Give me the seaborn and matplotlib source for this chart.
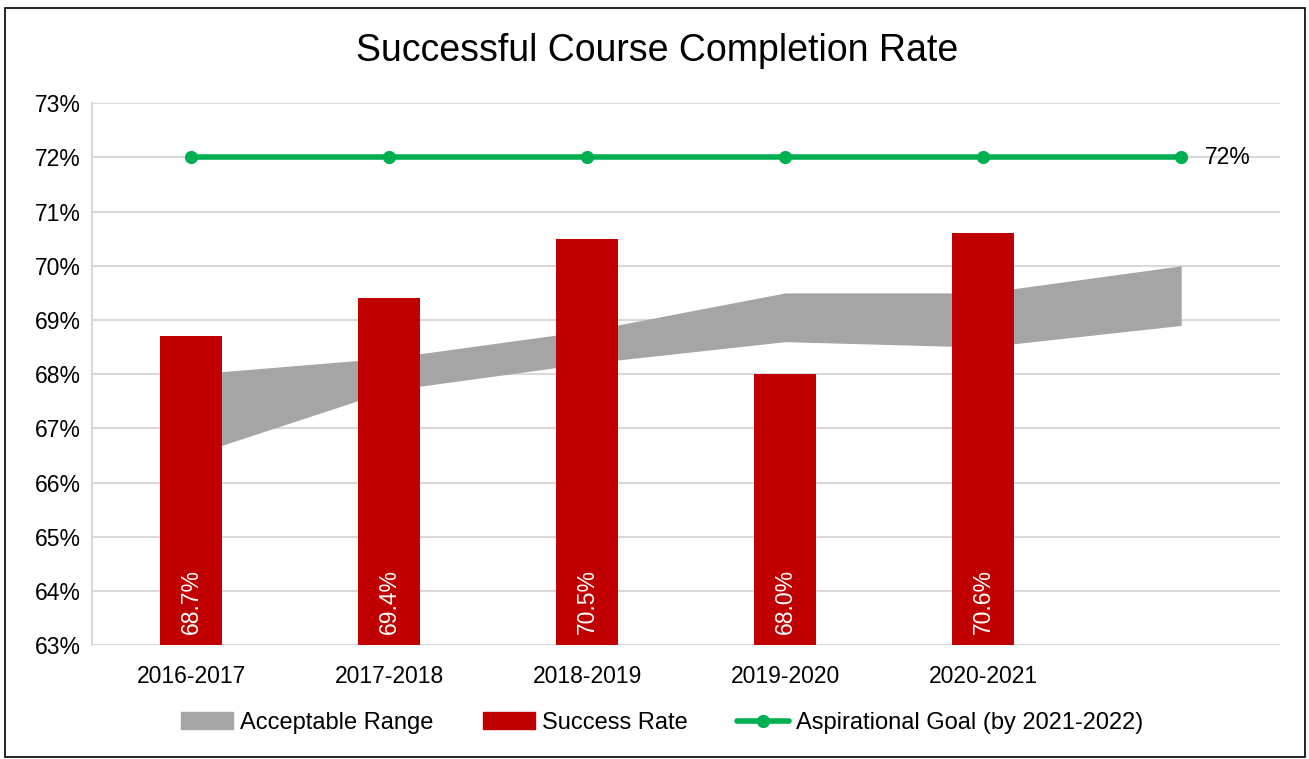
import matplotlib.pyplot as plt
import numpy as np
import pandas as pd
import seaborn as sns
from matplotlib.lines import Line2D
from matplotlib.patches import Patch, Rectangle

years = ["2016-2017", "2017-2018", "2018-2019", "2019-2020", "2020-2021", ""]
success_rate = [68.7, 69.4, 70.5, 68.0, 70.6]
range_low = [66.5, 67.7, 68.2, 68.6, 68.5, 68.9]
range_high = [68.0, 68.3, 68.8, 69.5, 69.5, 70.0]
goal = [72, 72, 72, 72, 72, 72]

RED = "#C00000"
GRAY = "#A5A5A5"
GREEN = "#00B050"

sns.set_theme(style="whitegrid")
plt.rcParams["font.family"] = ["Liberation Sans", "DejaVu Sans"]
plt.rcParams["text.color"] = "black"

fig, ax = plt.subplots(figsize=(13.09, 7.59), dpi=100)
fig.subplots_adjust(left=0.0703, right=0.978, top=0.864, bottom=0.15)

pos = np.arange(len(years))

# acceptable range band
ax.fill_between(pos, range_low, range_high, color=GRAY, linewidth=0, zorder=1)

# success rate bars
df = pd.DataFrame({"year": years[: len(success_rate)], "rate": success_rate})
sns.barplot(data=df, x="year", y="rate", order=years, color=RED, width=0.31,
            saturation=1, linewidth=0, ax=ax, zorder=2)
for i, v in enumerate(success_rate):
    ax.text(i, 63.2, f"{v:.1f}%", rotation=90, ha="center", va="bottom",
            color="white", fontsize=16.5, zorder=3)

# aspirational goal
sns.lineplot(x=pos, y=goal, color=GREEN, linewidth=4, marker="o", markersize=9.5,
             markeredgewidth=0, ax=ax, zorder=4)
ax.text(pos[-1] + 0.12, goal[-1], f"{goal[-1]}%", va="center", ha="left",
        fontsize=16.5)

ax.set_xlim(-0.5, len(years) - 0.5)
ax.set_ylim(63, 73)
ax.set_yticks(np.arange(63, 74, 1))
ax.set_yticklabels([f"{t}%" for t in range(63, 74)])
ax.set_xticks(pos)
ax.set_xticklabels(years)
ax.set_xlabel("")
ax.set_ylabel("")
ax.tick_params(axis="both", labelsize=16.5, labelcolor="black")
ax.tick_params(axis="y", length=5, color="#D9D9D9", width=1.5, pad=3)
ax.tick_params(axis="x", length=0, pad=14)
ax.grid(axis="y", color="#D9D9D9", linewidth=1.5)
ax.grid(axis="x", visible=False)
for side in ["top", "right", "bottom"]:
    ax.spines[side].set_visible(False)
ax.spines["left"].set_color("#D9D9D9")
ax.spines["left"].set_linewidth(1.5)
ax.set_facecolor("white")

fig.suptitle("Successful Course Completion Rate", fontsize=27, color="black",
             x=0.502, y=0.933, va="center")

handles = [
    Patch(color=GRAY, label="Acceptable Range"),
    Patch(color=RED, label="Success Rate"),
    Line2D([0], [0], color=GREEN, linewidth=4, marker="o", markersize=9.5,
           markeredgewidth=0, label="Aspirational Goal (by 2021-2022)"),
]
fig.legend(handles=handles, loc="lower center", bbox_to_anchor=(0.506, 0.005), ncol=3,
           frameon=False, fontsize=17, handlelength=2.2, handletextpad=0.3,
           columnspacing=2.1, labelcolor="black")

fig.patches.append(Rectangle((0.004, 0.002), 0.993, 0.987, transform=fig.transFigure,
                             fill=False, edgecolor="black", linewidth=1.2))

fig.savefig("out.png", dpi=100)
